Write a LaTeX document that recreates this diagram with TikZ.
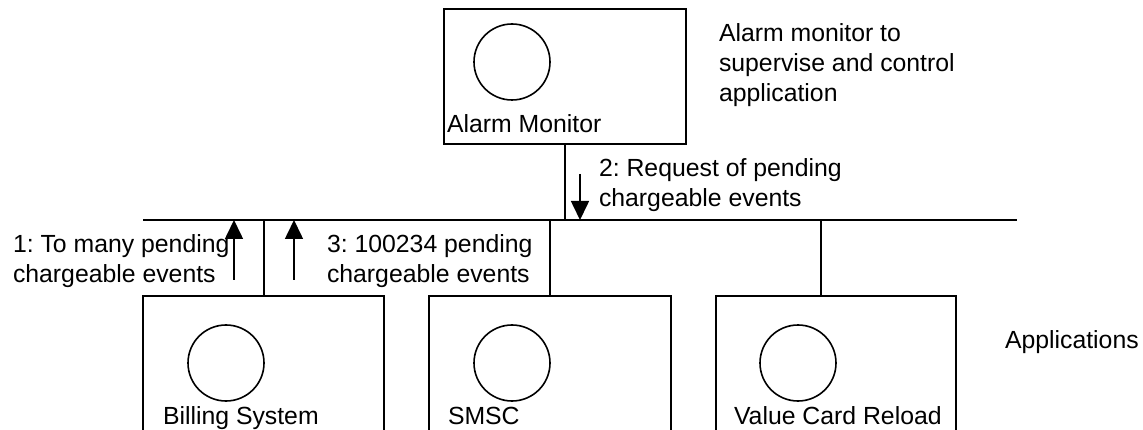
\documentclass[tikz,border=0pt]{standalone}
\usepackage{fontspec}
\setmainfont{Liberation Sans}
\frenchspacing
\usetikzlibrary{arrows.meta}
\begin{document}
\begin{tikzpicture}[x=1pt,y=-1pt,
  every node/.style={inner sep=0pt, outer sep=0pt},
  unit/.style={draw, line width=1.7pt, minimum width=241pt, minimum height=135pt},
  obj/.style={draw, circle, line width=1.6pt, minimum size=76pt},
  lbl/.style={anchor=base west, font=\fontsize{24.8}{30}\selectfont, align=left},
  wire/.style={line width=2pt},
  msg/.style={line width=1.6pt, -{Triangle[length=19pt,width=18pt]}},
]
\useasboundingbox (0,0) rectangle (1143,430);
\clip (0,0) rectangle (1143,430);

% component boxes
\node[unit, minimum width=242pt] (mon) at (565,76.5) {};
\node[unit] (bill) at (263.5,363.5) {};
\node[unit, minimum width=242pt] (smsc) at (550,363.5) {};
\node[unit, minimum width=240pt] (vcr) at (836,363.5) {};

% object symbols
\node[obj] (monc) at (512,62) {};
\node[obj] (billc) at (226,363) {};
\node[obj] (smscc) at (512,363) {};
\node[obj] (vcrc) at (798,363) {};

% box names
\node[lbl] (monl) at (447,133) {Alarm Monitor};
\node[lbl] (billl) at (163,424) {Billing System};
\node[lbl] (smscl) at (448,424) {SMSC};
\node[lbl] (vcrl) at (734,424) {Value Card Reload};

% notes (multi-line nodes sit on their last baseline)
\node[lbl] (note) at (719,102) {Alarm monitor to\\supervise and control\\application};
\node[lbl] (apps) at (1005,348) {Applications};

% message texts
\node[lbl] (m1) at (13,283) {1: To many pending\\chargeable events};
\node[lbl] (m2) at (599,207) {2: Request of pending\\chargeable events};
\node[lbl] (m3) at (327,283) {3: 100234 pending\\chargeable events};

% bus and taps
\coordinate (busL) at (143,220);
\coordinate (busR) at (1017,220);
\draw[wire] (busL) -- (busR);
\draw[wire] (mon.south) -- (mon.south |- busL);
\draw[wire] (bill.north |- busL) -- (bill.north);
\draw[wire] (smsc.north |- busL) -- (smsc.north);
\coordinate (vtap) at ([xshift=-15pt]vcr.north);
\draw[wire] (vtap |- busL) -- (vtap);

% message arrows
\coordinate (a1) at (234,280);
\coordinate (a3) at (294,280);
\coordinate (a2) at (580,174);
\draw[msg] (a1) -- (a1 |- busL);
\draw[msg] (a3) -- (a3 |- busL);
\draw[msg] (a2) -- (a2 |- busL);
\end{tikzpicture}
\end{document}
